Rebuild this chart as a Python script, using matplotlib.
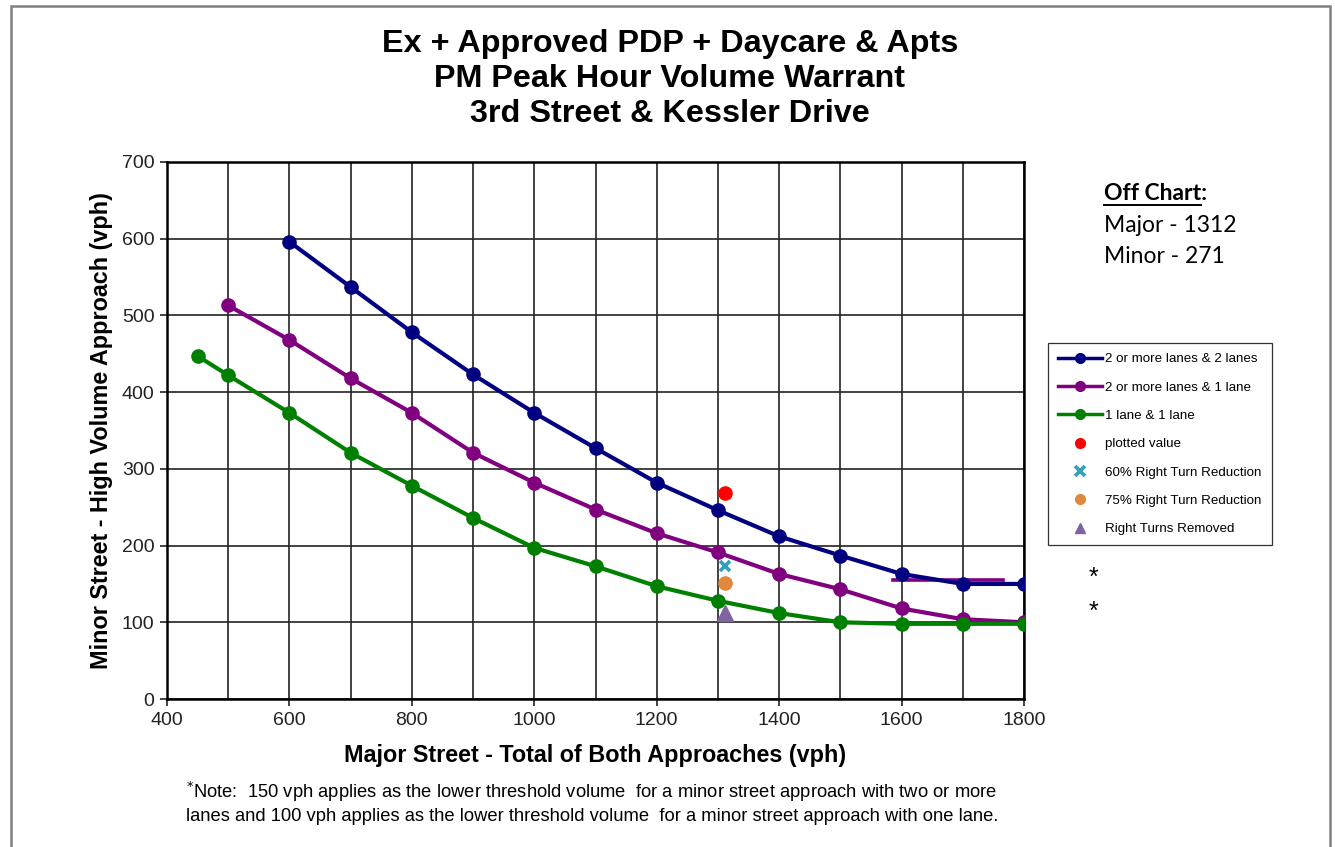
import matplotlib
matplotlib.use("Agg")
import matplotlib.pyplot as plt
from matplotlib.patches import Rectangle
from matplotlib.legend_handler import HandlerLine2D

plt.rcParams['font.family'] = ['Liberation Sans', 'DejaVu Sans']

# Data
x_two_two = [600, 700, 800, 900, 1000, 1100, 1200, 1300, 1400, 1500, 1600, 1700, 1800]
y_two_two = [596, 537, 478, 423, 373, 327, 282, 246, 212, 187, 163, 150, 150]
x_two_one = [500, 600, 700, 800, 900, 1000, 1100, 1200, 1300, 1400, 1500, 1600, 1700, 1800]
y_two_one = [513, 468, 418, 373, 321, 282, 247, 216, 191, 163, 143, 118, 104, 100]
x_one_one = [450, 500, 600, 700, 800, 900, 1000, 1100, 1200, 1300, 1400, 1500, 1600, 1700, 1800]
y_one_one = [447, 422, 373, 321, 278, 236, 197, 173, 147, 128, 112, 100, 98, 98, 98]
major_volume = 1312
minor_plotted = 268
minor_60 = 173
minor_75 = 151
minor_removed = 112
threshold_x = [1586, 1766]
threshold_y = [155, 155]
x_ticks = [400, 600, 800, 1000, 1200, 1400, 1600, 1800]
y_ticks = [0, 100, 200, 300, 400, 500, 600, 700]

fig = plt.figure(figsize=(13.35, 8.47), dpi=100)
W, H = 1335, 847
ax = fig.add_axes([167 / W, 1 - 699 / H, (1024 - 167) / W, (699 - 162) / H])

# Outer frame
fig.patches.append(Rectangle((11 / W, -0.01), (1330 - 11) / W, 1.01 - 6 / H,
                             transform=fig.transFigure, fill=False,
                             edgecolor='#808080', linewidth=1.8))

lw = 3.0
ms = 9.5
ax.plot(x_two_two, y_two_two, color='#000080', lw=lw, marker='o', ms=ms,
        label='2 or more lanes & 2 lanes', zorder=4)
ax.plot(x_two_one, y_two_one, color='#800080', lw=lw, marker='o', ms=ms,
        label='2 or more lanes & 1 lane', zorder=4)
ax.plot(x_one_one, y_one_one, color='#008000', lw=lw, marker='o', ms=ms,
        label='1 lane & 1 lane', zorder=4)
ax.plot([major_volume], [minor_plotted], ls='none', marker='o', ms=9.5,
        color='#FF0000', label='plotted value', zorder=5)
ax.plot([major_volume], [minor_60], ls='none', marker='x', ms=7.5, mew=2.6,
        color='#31A0B8', label='60% Right Turn Reduction', zorder=5)
ax.plot([major_volume], [minor_75], ls='none', marker='o', ms=9.5,
        color='#E0893E', label='75% Right Turn Reduction', zorder=5)
ax.plot([major_volume], [minor_removed], ls='none', marker='^', ms=12,
        color='#8064A2', label='Right Turns Removed', zorder=5)
ax.plot(threshold_x, threshold_y, color='#800080', lw=2.6, zorder=3)

ax.set_xlim(400, 1800)
ax.set_ylim(0, 700)
ax.set_xticks(x_ticks)
ax.set_xticks(range(400, 1801, 100), minor=True)
ax.set_yticks(y_ticks)
ax.grid(True, which='both', axis='x', color='#222222', lw=1.2)
ax.grid(True, which='major', axis='y', color='#222222', lw=1.2)
ax.tick_params(axis='both', which='major', labelsize=14, direction='out',
               length=5, width=1.2, pad=4, colors='#222222')
ax.tick_params(axis='x', which='minor', length=0)
for s in ax.spines.values():
    s.set_linewidth(1.8)
ax.set_axisbelow(True)

ax.set_xlabel('Major Street - Total of Both Approaches (vph)', fontsize=16.8,
              fontweight='bold', labelpad=11)
ax.set_ylabel('Minor Street - High Volume Approach (vph)', fontsize=16.8,
              fontweight='bold', labelpad=6)

fig.text(670 / W, 1 - 79 / H,
         'Ex + Approved PDP + Daycare & Apts\nPM Peak Hour Volume Warrant\n3rd Street & Kessler Drive',
         ha='center', va='center', fontsize=23.3, fontweight='bold', linespacing=1.2)


def small_marker(legline, orig_handle):
    legline.update_from(orig_handle)
    legline.set_markersize(min(orig_handle.get_markersize(), 7.0))
    legline.set_linewidth(min(orig_handle.get_linewidth(), 2.5))


leg = ax.legend(loc='upper left', bbox_to_anchor=(1048 / W, 1 - 343 / H),
                bbox_transform=fig.transFigure, fontsize=9.6, frameon=True,
                fancybox=False, edgecolor='#000000', labelspacing=1.2,
                handlelength=3.3, borderpad=0.75, handletextpad=0.25,
                borderaxespad=0,
                handler_map={plt.Line2D: HandlerLine2D(update_func=small_marker)})
leg.get_frame().set_linewidth(0.9)

off_font = ['Lato', 'DejaVu Sans']
fig.text(1104 / W, 1 - 193 / H, 'Off Chart:', fontsize=16.5, fontweight='bold',
         family=off_font, va='center', ha='left')
fig.add_artist(plt.Line2D([1104 / W, 1201 / W], [1 - 205 / H, 1 - 205 / H],
                          color='black', lw=1.4))
fig.text(1104 / W, 1 - 225 / H, 'Major - 1312', fontsize=16.5,
         family=off_font, va='center', ha='left')
fig.text(1104 / W, 1 - 256 / H, 'Minor - 271', fontsize=16.5,
         family=off_font, va='center', ha='left')

fig.text(1093 / W, 1 - 578 / H, '*', fontsize=18, ha='center', va='center')
fig.text(1093 / W, 1 - 612 / H, '*', fontsize=18, ha='center', va='center')

note_font = ['Liberation Sans', 'DejaVu Sans']
fig.text(186 / W, 1 - 792 / H,
         '$^{*}$Note:  150 vph applies as the lower threshold volume  for a minor street approach with two or more',
         fontsize=13.2, family=note_font, va='center', ha='left')
fig.text(186 / W, 1 - 816 / H,
         'lanes and 100 vph applies as the lower threshold volume  for a minor street approach with one lane.',
         fontsize=13.2, family=note_font, va='center', ha='left')

fig.savefig('out.png', dpi=100)
